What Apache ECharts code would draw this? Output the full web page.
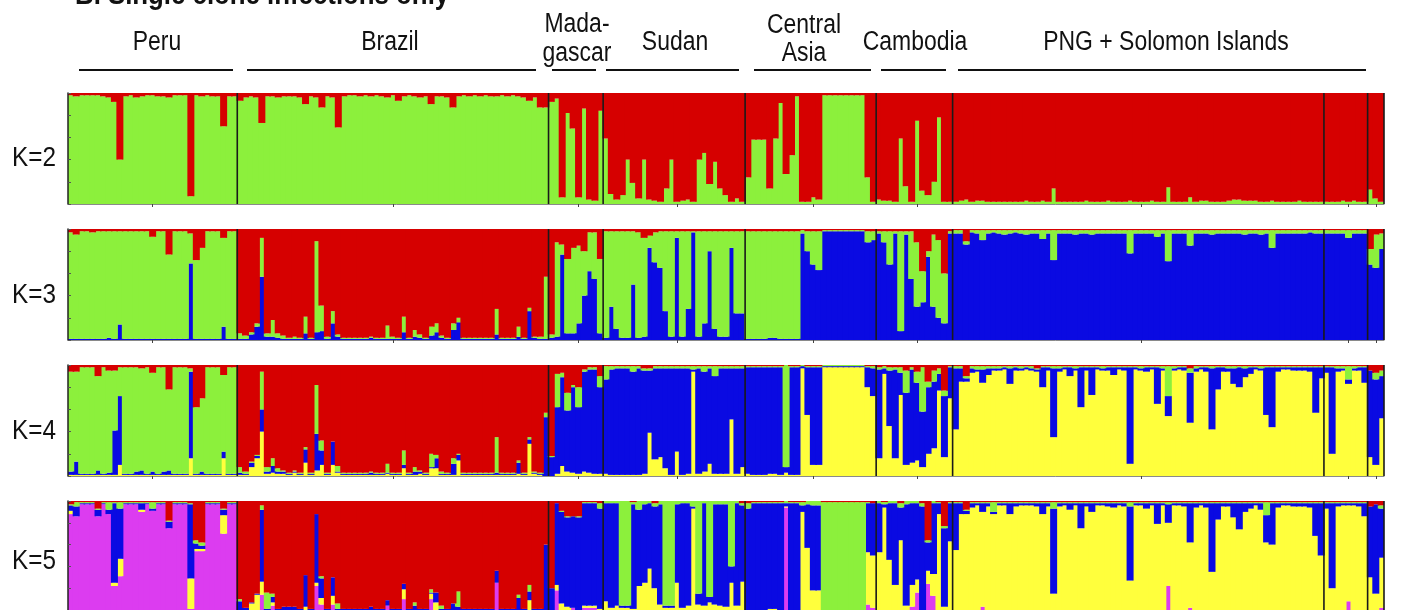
<!DOCTYPE html>
<html>
<head>
<meta charset="utf-8">
<script src="https://cdn.jsdelivr.net/npm/echarts/dist/echarts.min.js"></script>
<style>html,body{margin:0;padding:0;background:#fff}#c{width:1408px;height:610px}</style>
</head>
<body>
<div id="c"></div>
<script>
// Populations (individuals in plot order)
const popNames = ['Peru','Brazil','Madagascar','Sudan','Central Asia','Cambodia','PNG','Solomon Islands','Solomon Islands (2)'];
const popSizes = [31,57,10,26,24,14,68,8,3];
const panelLabels = ['K=2','K=3','K=4','K=5'];

// K=2 : green membership (%) ; red = remainder
const k2Green = [
 98,97,98,98,98,98,97,96,92,40,97,98,96,97,98,98,97,97,96,98,98,98,7,98,97,98,97,97,70,97,97,
 93,96,97,96,73,97,97,96,97,97, 97,96,90,97,96,87,97,96,69,97, 98,98,97,98,97,98,97,96,98,93, 97,98,97,96,97,90,97,97,96,87, 97,98,97,98,97,98,97,97,98,97, 98,97,96,93,96,87,87,
 92,95,6,82,68,6,86,4,3,84,
 59,9,4,8,40,19,5,40,4,3,2,14,40,2,3,4,2,40,46,18,38,14,8,2,5,2,
 24,58,58,58,14,59,91,27,44,97,2,2,6,4,98,98,98,98,98,98,98,98,24,2,
 4,3,3,2,59,16,2,75,12,8,20,78,2,2,
 2,3,4,2,3,3,2,2,2,2, 2,2,2,3,2,2,3,2,14,2, 2,2,2,2,3,2,2,2,3,2, 2,2,3,2,2,2,3,2,2,15, 2,2,2,6,2,3,3,2,2,2, 3,4,4,3,3,3,2,2,3,2, 2,2,2,3,2,2,2,2,
 2,2,2,3,2,3,2,2,
 13,5,2
];

// K=3 : blue, green (%) ; red = remainder
const k3Blue = [
 1,1,1,1,1,1,1,2,1,14, 1,1,1,1,1,1,1,1,1,1, 1,1,69,1,1,1,1,1,12,1, 1,
 1,1,5,12,57,3,3,2,1,1, 1,1,6,1,7,8,1,15,3,1, 1,1,1,1,2,1,1,1,1,1, 7,1,3,2,1,4,7,2,1,9, 16,1,1,1,1,1,1,5,1,1, 1,3,1,26,2,1,1,
 2,3,77,6,6,15,40,62,55,6,
 2,30,10,2,2,50,2,3,83,70,65,26,3,92,3,28,97,3,15,80,10,3,3,83,24,24,
 1,1,1,1,2,2,1,1,1,1, 96,80,68,63, 98,98,98,98,98,98,98,98, 88,90,
 96,88,68,96,8,95,55,30,34,75,30,20,15,96,
 96,96,86,97,96,90,96,97,96,95, 96,97,96,95,96,96,91,96,72,96, 96,96,95,96,96,95,96,96,96,96, 96,96,78,96,96,96,96,93,96,71, 96,96,96,85,96,96,96,95,96,96, 96,96,96,95,96,96,95,96,83,96, 96,96,96,96,96,97,96,96,
 96,96,96,96,92,96,96,96,
 68,65,82
];
const k3Green = [
 96,94,97,97,96,97,97,96,97,84, 97,97,97,97,97,92,97,97,76,97, 97,97,27,71,82,97,97,97,80,97, 97,
 5,3,2,3,35,3,15,4,3,1, 2,1,15,1,82,23,2,11,2,1, 1,1,1,1,1,1,1,12,2,1, 14,1,6,3,1,8,8,2,1,6, 4,1,1,1,1,1,1,23,1,1, 1,9,1,3,1,2,56,
 3,85,9,67,77,70,40,35,42,67,
 96,68,88,96,96,48,95,89,11,27,33,72,95,6,95,70,1,95,83,18,88,95,95,15,74,74,
 97,97,97,97,96,96,97,97,97,97, 3,18,30,35, 1,1,1,1,1,1,1,1, 10,8,
 2,10,30,2,90,3,43,58,28,5,65,70,45,2,
 3,3,3,2,3,9,3,2,3,4, 3,2,3,4,3,3,8,3,27,3, 3,3,4,3,3,4,3,3,3,3, 3,3,21,3,3,3,3,6,3,28, 3,3,3,14,3,3,3,4,3,3, 3,3,3,4,3,3,4,3,16,3, 3,3,3,3,3,2,3,3,
 3,3,3,3,7,3,3,3,
 14,30,14
];

// K=4 : yellow, blue, green (%) ; red = remainder
const k4Yellow = [
 1,1,1,1,1,1,1,1,1,10, 1,1,1,1,1,1,1,1,1,1, 1,1,16,1,1,1,1,1,16,1, 1,
 1,1,8,16,40,2,3,2,2,1, 3,1,12,1,5,10,1,10,3,1, 1,1,1,1,1,1,1,2,1,1, 7,1,1,2,1,7,7,1,1,1, 14,1,1,1,1,1,1,1,1,1, 1,2,1,29,2,1,0,
 0,2,9,4,3,2,4,3,2,2,
 2,1,1,1,1,1,1,2,39,15,17,7,1,22,1,2,94,2,4,11,2,2,2,51,2,8,
 2,1,1,1,2,2,1,3,1,1, 97,55,10,10, 98,98,98,98,98,98,98,98, 80,72,
 16,92,45,16,73,10,12,14,8,20,25,77,17,70,
 42,85,85,93,94,84,91,95,95,96, 83,95,95,96,95,94,80,95,35,94, 96,90,95,62,95,73,96,95,95,91, 96,95,11,96,95,94,96,65,95,54, 95,96,95,48,94,96,94,42,78,94, 94,83,80,89,92,96,95,55,44,94, 96,96,95,95,95,94,57,88,
 93,20,94,95,83,95,95,84,
 17,10,52
];
const k4Blue = [
 3,12,1,1,1,4,1,2,40,62, 1,1,3,4,1,3,1,3,4,1, 1,1,78,1,3,1,1,1,6,1, 1,
 2,1,4,2,20,2,6,2,2,1, 1,1,12,1,33,13,1,21,1,1, 1,1,1,1,2,1,1,1,1,1, 3,1,3,2,1,1,9,1,1,10, 5,1,1,1,1,1,1,2,1,1, 1,10,1,4,1,1,53,
 17,60,80,55,77,60,90,93,94,78,
 85,95,96,96,96,93,96,93,56,82,80,90,96,75,96,95,2,95,90,86,88,95,95,46,95,89,
 96,97,97,97,96,96,97,5,97,97, 2,43,88,88, 1,1,1,1,1,1,1,1, 18,25,
 80,5,50,80,20,65,84,70,50,60,60,15,55,28,
 55,12,3,4,2,12,6,2,2,2, 14,3,2,2,2,2,18,3,62,3, 2,8,2,36,3,25,2,2,3,7, 2,3,87,2,2,4,2,33,2,18, 2,2,3,45,3,2,4,55,20,4, 3,14,18,8,6,2,2,43,54,4, 2,2,3,3,3,4,41,10,
 5,78,3,2,4,2,3,14,
 78,77,38
];
const k4Green = [
 90,81,96,96,96,85,96,92,54,26, 96,96,94,92,96,89,96,94,73,96, 96,96,3,60,66,96,96,96,69,96, 96,
 5,2,1,1,34,4,7,3,1,1, 1,1,2,1,44,9,1,0,5,1, 1,1,1,1,1,1,1,8,1,1, 13,1,4,1,1,12,3,2,1,5, 1,1,1,1,1,1,1,32,1,1, 1,2,1,2,1,1,4,
 1,30,4,16,2,18,2,2,2,10,
 12,3,2,2,2,5,2,2,2,2,2,2,2,2,2,2,3,2,5,2,9,2,2,2,2,2,
 1,1,1,1,1,1,1,92,1,1, 1,1,1,1, 1,1,1,1,1,1,1,1, 1,2,
 2,2,3,2,5,20,2,10,40,5,10,5,5,1,
 2,2,2,2,3,3,2,2,2,1, 2,1,2,1,2,1,1,1,2,2, 1,1,2,1,1,1,1,2,1,1, 1,1,1,1,2,1,1,1,2,27, 2,1,1,4,2,1,1,2,1,1, 2,2,1,2,1,1,2,1,1,1, 1,1,1,1,1,1,1,1,
 1,1,2,2,12,2,1,1,
 0,6,5
];

// K=5 : magenta, yellow, blue, green (%) ; red = remainder
const k5Magenta = [
 88,86,97,97,97,86,97,88,22,31, 97,97,97,90,97,91,97,97,75,97, 97,97,1,54,54,97,97,97,70,97, 97,
 0,0,0,0,14,0,4,0,0,0, 0,0,0,0,22,5,0,5,0,0, 0,0,0,0,0,0,0,4,0,0, 10,0,0,0,0,10,0,0,0,0, 0,0,0,0,0,0,0,25,0,0, 0,0,0,0,0,0,0,
 0,18,0,0,2,0,2,2,2,0,
 0,0,0,0,0,0,0,0,0,0,0,0,0,0,0,0,0,0,0,0,0,0,0,0,0,0,
 0,0,0,0,0,0,0,94,0,0, 0,0,0,0, 0,0,0,0,0,0,0,0, 5,2,
 0,0,0,0,0,0,3,16,0,24,13,0,0,0,
 0,0,0,0,0,3,0,0,0,0, 0,0,0,0,0,0,0,0,0,0, 0,0,0,0,0,0,0,0,0,0, 0,0,0,0,0,0,0,0,0,22, 0,0,0,2,0,0,0,0,0,0, 0,0,0,0,0,0,0,0,0,0, 0,0,0,0,0,0,0,0,
 0,0,0,0,8,0,0,0,
 0,0,2
];
const k5Yellow = [
 3,0,0,0,0,0,0,0,3,16, 0,0,0,2,0,0,0,0,0,0, 0,0,28,2,2,0,0,0,17,0, 0,
 0,0,6,14,12,0,3,0,0,0, 0,0,3,0,3,6,0,8,0,0, 0,0,0,0,0,0,0,0,0,0, 9,0,0,0,0,5,7,0,0,0, 0,0,0,0,0,0,0,0,0,0, 0,0,0,9,0,0,0,
 0,5,6,3,0,0,2,2,2,1,
 8,2,4,2,2,1,22,25,38,20,5,2,2,25,2,4,93,5,4,7,5,4,3,25,4,26,
 0,0,0,0,1,1,0,1,0,0, 90,57,18,18, 0,0,0,0,0,0,0,0, 48,48,
 53,94,46,23,64,4,20,12,0,12,20,88,3,63,
 55,88,88,94,96,87,95,88,96,96, 88,95,96,96,96,95,88,95,15,95, 96,92,96,75,95,90,96,96,95,94, 96,95,27,96,96,93,96,79,96,58, 96,96,95,60,94,96,94,35,83,95, 95,85,74,90,93,96,92,62,60,94, 96,96,95,95,95,94,68,50,
 93,20,95,96,88,96,95,86,
 30,15,46
];
const k5Blue = [
 5,9,1,1,1,6,1,4,73,46, 1,1,1,6,1,2,1,1,6,1, 1,1,68,5,3,1,1,1,5,1, 1,
 8,2,1,1,66,1,5,1,3,3, 3,1,29,1,63,18,1,17,1,1, 1,1,1,1,3,1,1,5,1,1, 5,1,4,1,1,1,9,1,1,6, 3,1,1,1,1,1,1,11,1,1, 1,11,1,8,1,1,60,
 20,75,84,82,84,85,94,94,94,92,
 90,96,94,2,2,96,70,72,60,75,92,2,2,72,96,94,2,10,94,5,92,93,94,15,94,70,
 93,98,98,98,97,97,98,3,98,98, 6,40,78,78, 0,0,0,0,0,0,0,0, 45,48,
 45,3,52,75,30,93,75,70,95,26,65,10,72,35,
 43,10,3,4,2,8,3,2,2,2, 10,3,2,2,2,3,10,3,78,3, 2,6,2,23,3,8,2,2,3,4, 2,3,68,2,2,5,2,19,2,17, 2,2,3,36,4,2,4,63,15,3, 3,13,24,8,5,2,6,25,38,4, 2,2,3,3,3,4,30,48,
 5,78,3,2,2,2,3,12,
 65,82,45
];
const k5Green = [
 1,4,1,1,1,1,1,7,1,6, 1,1,1,1,1,6,1,1,1,1, 1,1,1,3,3,1,1,1,1,1, 1,
 2,0,0,0,4,15,3,0,0,0, 0,0,0,0,0,2,0,0,5,0, 0,0,0,0,0,0,0,0,0,0, 0,0,3,0,0,3,0,3,0,0, 14,0,0,0,0,0,0,0,0,0, 0,3,0,6,0,0,0,
 0,0,1,1,0,1,1,1,1,5,
 2,2,2,96,96,2,8,3,2,3,3,96,96,3,2,2,5,85,2,88,3,3,3,60,2,2,
 5,1,1,1,1,1,1,2,1,1, 3,3,4,4, 99,99,99,99,99,99,99,99, 1,0,
 2,2,2,2,4,3,2,2,3,2,2,1,2,1,
 1,1,1,1,1,1,1,9,1,1, 1,1,1,1,1,1,1,1,6,1, 1,1,1,1,1,1,1,1,1,1, 1,1,4,1,1,1,1,1,1,2, 1,1,1,1,1,1,1,1,1,1, 1,1,1,1,1,1,1,12,1,1, 1,1,1,1,1,1,1,1,
 1,1,1,1,1,1,1,1,
 0,0,3
];

// ---------- build chart ----------
const N = popSizes.reduce((a, b) => a + b, 0);
const cats = Array.from({length: N}, (_, i) => 'ind' + (i + 1));
const bounds = []; const centers = new Set();
let acc = 0;
popSizes.forEach(s => { centers.add(acc + Math.floor(s / 2)); acc += s; bounds.push(acc); });

const COL = {red:'#d60000', green:'#8cf03c', blue:'#0a0ae2', yellow:'#ffff3c', magenta:'#dc3cf0'};
const panels = [
  [['green', k2Green]],
  [['blue', k3Blue], ['green', k3Green]],
  [['yellow', k4Yellow], ['blue', k4Blue], ['green', k4Green]],
  [['magenta', k5Magenta], ['yellow', k5Yellow], ['blue', k5Blue], ['green', k5Green]]
];
const tops = [93, 229, 365, 501];
const GH = 111, GL = 68, GW = 1316;
const FONT = '"Liberation Sans", Arial, Helvetica, sans-serif';

const grid = [], xAxis = [], yAxis = [], series = [];
panels.forEach((comps, gi) => {
  grid.push({left: GL, top: tops[gi], width: GW, height: GH});
  xAxis.push({type:'category', gridIndex: gi, data: cats, boundaryGap: true, z: 10,
    axisLine: {show: true, lineStyle: {color: '#8a8a8a', width: 1}},
    axisTick: {show: true, alignWithLabel: true, length: 3, interval: (idx) => centers.has(idx), lineStyle: {color: '#444'}},
    axisLabel: {show: false}, splitLine: {show: false}});
  xAxis.push({type:'value', gridIndex: gi, min: 0, max: N, show: false});
  yAxis.push({type:'value', gridIndex: gi, min: 0, max: 100, interval: 20, z: 10,
    axisLine: {show: true, lineStyle: {color: '#222', width: 1.5}},
    axisTick: {show: true, inside: true, length: 3, lineStyle: {color: '#555'}},
    axisLabel: {show: false}, splitLine: {show: false}});
  const red = cats.map((_, i) => Math.max(0, 100 - comps.reduce((s, c) => s + c[1][i], 0)));
  comps.concat([['red', red]]).forEach(([name, vals]) => {
    series.push({type:'bar', name: name, xAxisIndex: 2 * gi, yAxisIndex: gi, stack: 'K' + gi,
      data: vals, barWidth: 7, itemStyle: {color: COL[name]}, silent: true, animation: false});
  });
  series.push({type:'custom', xAxisIndex: 2 * gi + 1, yAxisIndex: gi, z: 8, silent: true, animation: false,
    data: bounds.map(b => [b, 0]),
    renderItem: (params, api) => {
      const a = api.coord([api.value(0), 0]);
      const b = api.coord([api.value(0), 100]);
      return {type: 'line', shape: {x1: a[0], y1: a[1], x2: b[0], y2: b[1]},
        style: {stroke: '#1a1a1a', lineWidth: 1.6}};
    }});
});

const g = [];
function txt(x, y, s) {
  g.push({type: 'text', x: x, y: y, scaleX: 0.85, silent: true,
    style: {text: s, fontSize: 27, fontFamily: FONT, fill: '#111', textAlign: 'center', textVerticalAlign: 'middle'}});
}
// title (cut at top)
g.push({type:'text', x: 75, y: -4, scaleX: 0.86, silent: true,
  style: {text: 'B. Single clone infections only', fontSize: 30, fontWeight: 'bold', fontFamily: FONT, fill: '#111', textAlign: 'left', textVerticalAlign: 'middle'}});
txt(157, 43, 'Peru');
txt(390, 43, 'Brazil');
txt(577, 25, 'Mada-');
txt(577, 54, 'gascar');
txt(675, 43, 'Sudan');
txt(804, 26, 'Central');
txt(804, 54, 'Asia');
txt(915, 43, 'Cambodia');
txt(1166, 43, 'PNG + Solomon Islands');
[[79,233],[247,536],[552,596],[606,739],[754,871],[881,946],[958,1366]].forEach(([a, b]) => {
  g.push({type: 'line', silent: true, shape: {x1: a, y1: 70, x2: b, y2: 70}, style: {stroke: '#111', lineWidth: 2}});
});
const klY = [159, 296, 432, 562];
panelLabels.forEach((s, i) => {
  g.push({type: 'text', x: 12, y: klY[i], scaleX: 0.9, silent: true,
    style: {text: s, fontSize: 27, fontFamily: FONT, fill: '#111', textAlign: 'left', textVerticalAlign: 'middle'}});
});

const chart = echarts.init(document.getElementById('c'), null, {renderer: 'canvas'});
chart.setOption({animation: false, backgroundColor: '#fff', grid, xAxis, yAxis, series, graphic: g});
</script>
</body>
</html>
